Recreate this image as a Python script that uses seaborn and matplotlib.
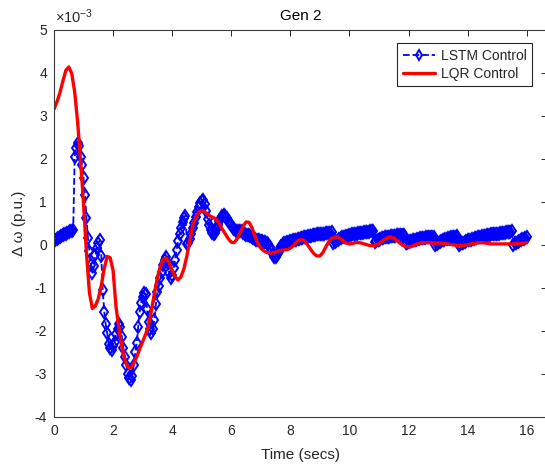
import numpy as np
import matplotlib
matplotlib.use("Agg")
import matplotlib.pyplot as plt
import seaborn as sns

# Speed deviation of generator 2, in units of 1e-3 p.u.
# LQR response sampled every 0.1 s from 0 to 16 s
lqr_dw = [
    3.15, 3.32, 3.53, 3.80, 4.05, 4.13, 3.98, 3.55, 2.85, 1.95,
    0.95, -0.20, -1.12, -1.48, -1.42, -1.25, -0.95, -0.55, -0.27, -0.30,
    -0.60, -1.45, -1.95, -2.38, -2.68, -2.84, -2.86, -2.75, -2.60, -2.42,
    -2.25, -2.08, -1.88, -1.52, -1.12, -0.76, -0.50, -0.34, -0.31, -0.42,
    -0.60, -0.74, -0.82, -0.74, -0.55, -0.25, 0.10, 0.48, 0.64, 0.76,
    0.80, 0.77, 0.71, 0.66, 0.63, 0.58, 0.48, 0.36, 0.25, 0.14,
    0.06, 0.05, 0.14, 0.28, 0.43, 0.53, 0.52, 0.40, 0.20, 0.03,
    -0.08, -0.14, -0.18, -0.19, -0.19, -0.17, -0.14, -0.13, -0.12, -0.11,
    -0.08, -0.02, 0.06, 0.11, 0.12, 0.08, -0.02, -0.12, -0.21, -0.26,
    -0.26, -0.18, -0.05, 0.07, 0.15, 0.18, 0.18, 0.14, 0.08, 0.04,
    0.02, 0.03, 0.05, 0.05, 0.04, 0.02, 0.00, -0.02, -0.02, -0.01,
    0.03, 0.08, 0.13, 0.17, 0.18, 0.16, 0.10, 0.04, -0.01, -0.04,
    -0.05, -0.04, -0.01, 0.02, 0.04, 0.05, 0.05, 0.05, 0.04, 0.04,
    0.04, 0.04, 0.03, 0.02, 0.01, 0.00, -0.01, -0.02, -0.02, -0.01,
    0.00, 0.02, 0.03, 0.04, 0.05, 0.05, 0.04, 0.03, 0.02, 0.02,
    0.02, 0.02, 0.02, 0.02, 0.02, 0.02, 0.02, 0.03, 0.03, 0.04,
    0.05,
]

# LSTM response sampled every 0.05 s from 0 to 16 s (one row per second)
lstm_dw = [
    0.10, 0.12, 0.14, 0.16, 0.18, 0.20, 0.22, 0.24, 0.26, 0.28, 0.30, 0.31, 0.33, 0.35, 2.05, 2.25, 2.36, 2.30, 2.05, 1.85,
    1.55, 1.15, 0.62, 0.15, -0.15, -0.48, -0.65, -0.50, -0.24, -0.08, 0.04, 0.10, -0.25, -1.05, -1.55, -1.85, -2.05, -2.30, -2.40, -2.44,
    -2.35, -2.25, -2.08, -1.95, -1.85, -1.90, -2.15, -2.40, -2.60, -2.80, -3.00, -3.10, -3.14, -3.05, -2.80, -2.50, -2.28, -1.90, -1.55, -1.35,
    -1.22, -1.12, -1.15, -1.50, -1.80, -1.95, -2.05, -1.95, -1.74, -1.38, -1.10, -0.95, -0.78, -0.63, -0.48, -0.35, -0.28, -0.42, -0.65, -0.78,
    -0.70, -0.55, -0.35, -0.12, 0.08, 0.25, 0.40, 0.52, 0.63, 0.68, 0.02, 0.04, 0.14, 0.26, 0.38, 0.50, 0.64, 0.76, 0.87, 0.96,
    1.02, 1.05, 0.95, 0.78, 0.60, 0.46, 0.35, 0.28, 0.25, 0.27, 0.35, 0.45, 0.55, 0.62, 0.67, 0.70, 0.68, 0.62, 0.56, 0.50,
    0.45, 0.40, 0.36, 0.33, 0.32, 0.33, 0.33, 0.31, 0.28, 0.25, 0.23, 0.22, 0.22, 0.21, 0.19, 0.16, 0.13, 0.11, 0.10, 0.10,
    0.09, 0.08, 0.07, 0.06, 0.05, 0.02, -0.05, -0.14, -0.22, -0.28, -0.29, -0.24, -0.16, -0.08, -0.02, 0.02, 0.04, 0.05, 0.06, 0.07,
    0.08, 0.09, 0.10, 0.11, 0.12, 0.13, 0.14, 0.15, 0.16, 0.17, 0.18, 0.19, 0.20, 0.21, 0.21, 0.22, 0.23, 0.23, 0.24, 0.24,
    0.25, 0.25, 0.26, 0.26, 0.27, 0.27, 0.28, 0.28, 0.29, 0.03, 0.06, 0.09, 0.11, 0.13, 0.15, 0.17, 0.18, 0.19, 0.20, 0.21,
    0.22, 0.23, 0.24, 0.25, 0.26, 0.26, 0.27, 0.27, 0.28, 0.28, 0.29, 0.29, 0.30, 0.30, 0.31, 0.31, 0.31, 0.07, 0.09, 0.10,
    0.12, 0.13, 0.15, 0.16, 0.17, 0.18, 0.19, 0.19, 0.20, 0.20, 0.21, 0.21, 0.22, 0.22, 0.23, 0.23, 0.23, 0.23, 0.04, 0.05,
    0.06, 0.08, 0.09, 0.10, 0.11, 0.12, 0.13, 0.14, 0.15, 0.15, 0.16, 0.16, 0.17, 0.17, 0.18, 0.18, 0.19, 0.19, 0.00, 0.02,
    0.04, 0.06, 0.08, 0.10, 0.11, 0.13, 0.14, 0.15, 0.16, 0.17, 0.18, 0.19, 0.19, 0.20, 0.00, 0.02, 0.04, 0.05, 0.07, 0.08,
    0.10, 0.11, 0.12, 0.13, 0.14, 0.15, 0.16, 0.17, 0.18, 0.19, 0.20, 0.20, 0.21, 0.22, 0.23, 0.23, 0.24, 0.24, 0.25, 0.25,
    0.26, 0.26, 0.27, 0.27, 0.28, 0.28, 0.29, 0.29, 0.30, 0.30, 0.31, 0.00, 0.03, 0.05, 0.07, 0.09, 0.11, 0.13, 0.14, 0.16,
    0.17,
]

x_ticks = [0, 2, 4, 6, 8, 10, 12, 14, 16]
y_ticks = [-4, -3, -2, -1, 0, 1, 2, 3, 4, 5]
series_labels = ["LSTM Control", "LQR Control"]

t_lqr = np.linspace(0, 16, len(lqr_dw))
t_lstm = np.linspace(0, 16, len(lstm_dw))

sns.set_theme(style="white")
plt.rcParams["font.family"] = ["Liberation Sans", "DejaVu Sans"]
plt.rcParams["axes.unicode_minus"] = False
plt.rcParams["mathtext.fontset"] = "custom"
plt.rcParams["mathtext.rm"] = "Liberation Sans"
plt.rcParams["mathtext.it"] = "Liberation Sans:italic"

ink = "#262626"
fig = plt.figure(figsize=(5.45, 4.72), dpi=100)
ax = fig.add_axes([54 / 545, 55 / 472, 492.5 / 545, 387.5 / 472])

sns.lineplot(x=t_lstm, y=lstm_dw, ax=ax, color="#0000ff", linestyle="--",
             linewidth=1.3, marker="d", markersize=6,
             markerfacecolor="none", markeredgecolor="#0000ff",
             markeredgewidth=1.4, label=series_labels[0])
sns.lineplot(x=t_lqr, y=lqr_dw, ax=ax, color="#ff0000", linewidth=2.4,
             label=series_labels[1])

ax.set_xlim(0, 16.67)
ax.set_ylim(-4, 5)
ax.set_xticks(x_ticks)
ax.set_yticks(y_ticks)
ax.set_xticklabels([str(v) for v in x_ticks])
ax.set_yticklabels([str(v) for v in y_ticks])
ax.tick_params(direction="in", length=4, width=0.7, top=True, right=True,
               colors=ink, labelsize=10, pad=5)
for side in ax.spines.values():
    side.set_color("#3a3a3a")
    side.set_linewidth(0.8)

ax.set_title("Gen 2", fontsize=11, color="black", pad=7)
ax.set_xlabel("Time (secs)", fontsize=11, color=ink, labelpad=7)
ax.set_ylabel("\u0394 \u03c9 (p.u.)", fontsize=11, color=ink, labelpad=6)
ax.text(0.003, 1.008, r"$\times10^{-3}$", transform=ax.transAxes,
        ha="left", va="bottom", fontsize=10.5, color=ink)

leg = ax.legend(loc="upper right", bbox_to_anchor=(0.9705, 0.965),
                borderaxespad=0, frameon=True, fancybox=False,
                edgecolor=ink, framealpha=1, fontsize=10, handlelength=2.3,
                handletextpad=0.4, borderpad=0.4, labelspacing=0.3,
                numpoints=1)
leg.get_frame().set_linewidth(0.8)
for handle in leg.legend_handles:
    handle.set_markersize(5)

fig.savefig("out.png", dpi=100)
